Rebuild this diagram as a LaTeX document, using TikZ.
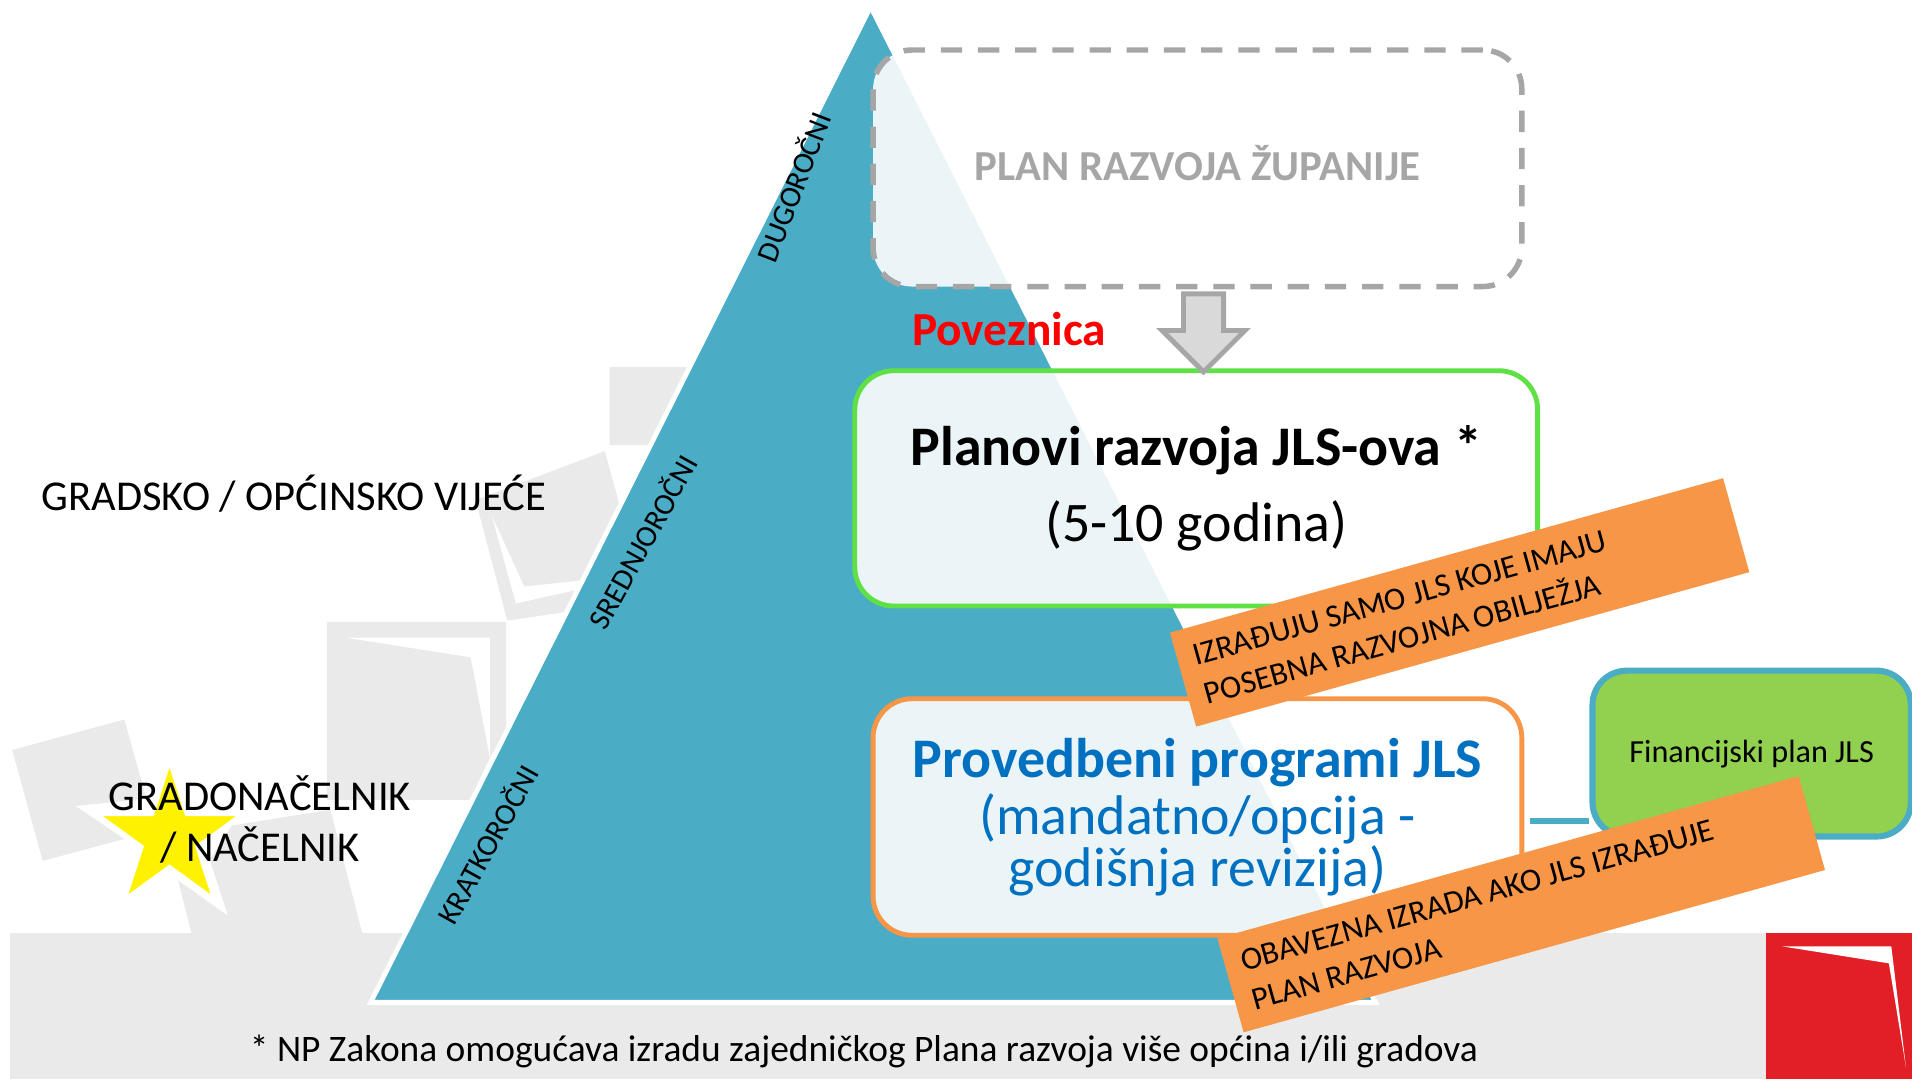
\documentclass[tikz,border=0pt]{standalone}
\usepackage{fontspec}
\setmainfont{Carlito}
\usetikzlibrary{shapes.geometric,shapes.arrows}
\definecolor{sivapod}{HTML}{EAEAEA}
\definecolor{sivastr}{HTML}{D9D9D9}
\definecolor{tirkiz}{HTML}{4BACC6}
\definecolor{sivarub}{HTML}{A6A6A6}
\definecolor{narancasta}{HTML}{F79646}
\definecolor{zelenrub}{HTML}{5FE045}
\definecolor{zelenfin}{HTML}{92D050}
\definecolor{plavatxt}{HTML}{0070C0}
\definecolor{crvenlogo}{HTML}{E21E26}
\definecolor{zvijezda}{HTML}{FFF200}
\newcommand{\vel}[1]{\fontsize{#1}{#1}\selectfont}
\tikzset{
  podloga/.style={fill=sivapod},
  planbox/.style={rectangle,rounded corners=32bp,minimum width=532bp,minimum height=194bp,
    fill=white,fill opacity=.89,text opacity=1,align=flush center,line width=4bp},
  traka/.style={rectangle,fill=narancasta,rotate=15.6,minimum height=80bp,
    align=flush left,font=\vel{26.5}},
  rok/.style={rotate=61,font=\vel{25}},
}
\begin{document}
\begin{tikzpicture}[x=1bp,y=-1bp,inner sep=0pt]
\useasboundingbox (0,0) rectangle (1568,885);
% podloga
\fill[podloga] (8,765) rectangle (1568,885);
\fill[podloga] (500,301) -- (564,301) -- (533,365) -- (500,365) -- cycle;
\fill[podloga] (390,410) -- (496,370) -- (508,414) -- (476,476) -- (430,481) -- (403,422) -- (423,495) -- (472,484) -- (463,502) -- (416,509) -- cycle;
\fill[podloga] (268,510) -- (415,510) -- (415,598) -- (401,623) -- (386,656) -- (268,656) -- cycle;
\fill[white] (284,523) -- (402,523) -- (402,623) -- (386,539) -- cycle;
\fill[podloga] (10,615) -- (102,590) -- (120,655) -- (62,661) -- (102,688) -- (35,706) -- cycle;
\fill[podloga] (172,705) -- (190,677) -- (271,664) -- (297,765) -- (157,765) -- (146,722) -- (187,751) -- cycle;
\fill[crvenlogo] (1448,765) rectangle (1568,885);
\fill[white] (1461,776) -- (1551,776) -- (1563,875) -- (1549,790) -- cycle;
% piramida
\draw[white,line width=4bp,fill=tirkiz,line join=miter] (714,5.5) -- (304,822) -- (1128,822) -- cycle;
\node[rok,rotate=8] (dugorocni) at (650,153) {DUGOROČNI};
\node[rok] (srednjorocni) at (526,444) {SREDNJOROČNI};
\node[rok] (kratkorocni) at (399,692) {KRATKOROČNI};
% planovi
\node[planbox,draw=sivarub,line width=4.5bp,dash pattern=on 17.5bp off 13bp,text=sivarub,font=\vel{35.2}\bfseries] (zupanija) at (982,138) {\raisebox{9bp}{PLAN RAZVOJA ŽUPANIJE}};
\node[font=\vel{39}\bfseries,text=red] (poveznica) at (827.5,270) {Poveznica};
\node[planbox,draw=zelenrub,minimum width=560bp,minimum height=193bp] (jls) at (981,400.5) {{\vel{46}\bfseries Planovi razvoja JLS-ova *}\\[20bp]{\vel{46}(5-10 godina)}};
\node[planbox,draw=narancasta,text=plavatxt] (provedbeni) at (982,670) {{\vel{46}\bfseries Provedbeni programi JLS}\\[5bp]{\vel{46}(mandatno/opcija -}\\{\vel{46}godišnja revizija)}};
\node[rectangle,rounded corners=28bp,draw=tirkiz,line width=5bp,fill=zelenfin,minimum width=261bp,minimum height=136bp,font=\vel{26.5}] (financije) at (1436.5,618) {Financijski plan JLS};
\coordinate (vezaprov) at (1255,673);
\draw[tirkiz,line width=5bp] (vezaprov) -- (financije.west |- vezaprov);
\node[shape=single arrow,rotate=-90,anchor=tail,draw=sivarub,fill=sivastr,line width=4bp,minimum height=64bp,minimum width=68bp,
  single arrow head extend=17bp,inner sep=14bp,single arrow tip angle=90] (strelica) at (987,239) {};
% trake
\node[traka,minimum width=471bp,text width=443bp] (trakagore) at (1197,494) {IZRAĐUJU SAMO JLS KOJE IMAJU\\[7bp]POSEBNA RAZVOJNA OBILJEŽJA};
\node[traka,minimum width=495bp,text width=467bp] (trakadolje) at (1247.5,741.5) {OBAVEZNA IZRADA AKO JLS IZRAĐUJE\\[7bp]PLAN RAZVOJA};
% lijevo
\node[star,star points=5,star point ratio=2.618,minimum size=128bp,draw=white,line width=4bp,fill=zvijezda] (zvijezda) at (139,687) {};
\node[font=\vel{35},anchor=west] (vijece) at (34,405) {GRADSKO / OPĆINSKO VIJEĆE};
\node[font=\vel{35},align=flush center] (gradonacelnik) at (213,672) {GRADONAČELNIK\\[7bp]/ NAČELNIK};
\node[font=\vel{30.8}] (fusnota) at (708.5,862) {* NP Zakona omogućava izradu zajedničkog Plana razvoja više općina i/ili gradova};
\end{tikzpicture}
\end{document}
